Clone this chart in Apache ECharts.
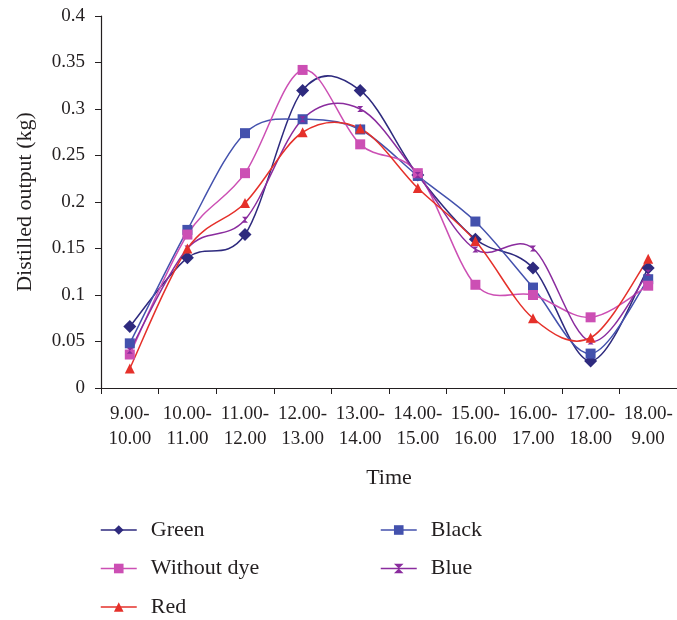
<!DOCTYPE html>
<html>
<head>
<meta charset="utf-8">
<script src="https://cdn.jsdelivr.net/npm/echarts@6/dist/echarts.min.js"></script>
<style>html,body{margin:0;padding:0;background:#fff;}#chart{width:677px;height:620px;}</style>
</head>
<body>
<div id="chart"></div>
<script>
const categories = ['9.00-\n10.00', '10.00-\n11.00', '11.00-\n12.00', '12.00-\n13.00', '13.00-\n14.00', '14.00-\n15.00', '15.00-\n16.00', '16.00-\n17.00', '17.00-\n18.00', '18.00-\n9.00'];
const green      = [0.066, 0.140, 0.165, 0.320, 0.320, 0.229, 0.160, 0.129, 0.029, 0.129];
const black      = [0.048, 0.170, 0.274, 0.289, 0.278, 0.228, 0.179, 0.108, 0.037, 0.117];
const withoutDye = [0.036, 0.165, 0.231, 0.342, 0.262, 0.231, 0.111, 0.100, 0.076, 0.110];
const blue       = [0.040, 0.150, 0.181, 0.289, 0.300, 0.229, 0.149, 0.150, 0.050, 0.124];
const red        = [0.021, 0.150, 0.199, 0.275, 0.279, 0.215, 0.158, 0.075, 0.054, 0.139];
const yTicks = { min: 0, max: 0.4, interval: 0.05 };

const FONT = '"Liberation Serif", "DejaVu Serif", serif';
const TXT = '#231f20';
const hourglass = 'path://M0,0L10,0L0,10L10,10Z';

const defs = [
  { name: 'Green', data: green, color: '#2e2a7e', symbol: 'diamond', size: 13 },
  { name: 'Black', data: black, color: '#4351ad', symbol: 'rect', size: 10 },
  { name: 'Without dye', data: withoutDye, color: '#cc4fb4', symbol: 'rect', size: 10 },
  { name: 'Blue', data: blue, color: '#8a2c9e', symbol: hourglass, size: 6 },
  { name: 'Red', data: red, color: '#e5302a', symbol: 'triangle', size: 10 }
];

// Excel-style smoothed curve (Catmull-Rom as cubic Bezier) drawn through the axis scales
function curveSeries(d) {
  return {
    name: d.name, type: 'custom', coordinateSystem: 'cartesian2d', z: 2,
    data: d.data.map((v, i) => [i, v]),
    encode: { x: 0, y: 1 },
    silent: true,
    renderItem: function (params, api) {
      if (params.dataIndex !== 0) return null;
      const p = d.data.map((v, i) => api.coord([i, v]));
      const n = p.length;
      let s = 'M' + p[0][0] + ',' + p[0][1];
      for (let i = 0; i < n - 1; i++) {
        const p0 = p[i > 0 ? i - 1 : i], p1 = p[i], p2 = p[i + 1], p3 = p[i + 2 < n ? i + 2 : i + 1];
        const c1x = p1[0] + (p2[0] - p0[0]) / 6, c1y = p1[1] + (p2[1] - p0[1]) / 6;
        const c2x = p2[0] - (p3[0] - p1[0]) / 6, c2y = p2[1] - (p3[1] - p1[1]) / 6;
        s += 'C' + c1x + ',' + c1y + ' ' + c2x + ',' + c2y + ' ' + p2[0] + ',' + p2[1];
      }
      return {
        type: 'path',
        shape: { pathData: s },
        style: { fill: null, stroke: d.color, lineWidth: 1.5 }
      };
    }
  };
}

function markSeries(d) {
  return {
    name: d.name, type: 'line', data: d.data, smooth: false, z: 3,
    symbol: d.symbol, symbolSize: d.size, showSymbol: true,
    lineStyle: { color: d.color, width: 1.5, opacity: 0 },
    itemStyle: { color: d.color, borderWidth: 0 },
    emphasis: { disabled: true }
  };
}

function legendItem(name) {
  const d = defs.find(x => x.name === name);
  return { name, lineStyle: { color: d.color, width: 1.5, opacity: 1 } };
}

const legendCommon = {
  orient: 'vertical', top: 519, height: 110, padding: 0,
  itemWidth: 36, itemHeight: 12, itemGap: 16.5,
  textStyle: { fontFamily: FONT, fontSize: 22, lineHeight: 22, color: TXT, padding: [0, 0, 0, 9] }
};

const chart = echarts.init(document.getElementById('chart'), null, { renderer: 'canvas' });
chart.setOption({
  animation: false,
  backgroundColor: '#ffffff',
  textStyle: { fontFamily: FONT },
  grid: { left: 101, top: 16, width: 580, height: 372, containLabel: false },
  xAxis: {
    type: 'category', data: categories, boundaryGap: true,
    name: 'Time', nameLocation: 'middle', nameGap: 79,
    nameTextStyle: { fontFamily: FONT, fontSize: 22, color: TXT },
    axisLine: { lineStyle: { color: '#231f20', width: 1.2 } },
    axisTick: { show: true, length: 6, alignWithLabel: false, lineStyle: { color: '#231f20' } },
    axisLabel: { interval: 0, fontFamily: FONT, fontSize: 19, color: TXT, margin: 14, lineHeight: 24.5 },
    splitLine: { show: false }
  },
  yAxis: {
    type: 'value', min: yTicks.min, max: yTicks.max, interval: yTicks.interval,
    name: 'Distilled output (kg)', nameLocation: 'middle', nameGap: 65, nameRotate: 90,
    nameTextStyle: { fontFamily: FONT, fontSize: 22, color: TXT },
    axisLine: { show: true, lineStyle: { color: '#231f20', width: 1.2 } },
    axisTick: { show: true, length: 6, lineStyle: { color: '#231f20' } },
    axisLabel: { fontFamily: FONT, fontSize: 19, color: TXT, margin: 16,
      formatter: v => String(Math.round(v * 100) / 100) },
    splitLine: { show: false }
  },
  legend: [
    Object.assign({ data: ['Green', 'Without dye', 'Red'].map(legendItem), left: 100 }, legendCommon),
    Object.assign({ data: ['Black', 'Blue'].map(legendItem), left: 380 }, legendCommon)
  ],
  series: defs.map(markSeries).concat(defs.map(curveSeries))
});
</script>
</body>
</html>
